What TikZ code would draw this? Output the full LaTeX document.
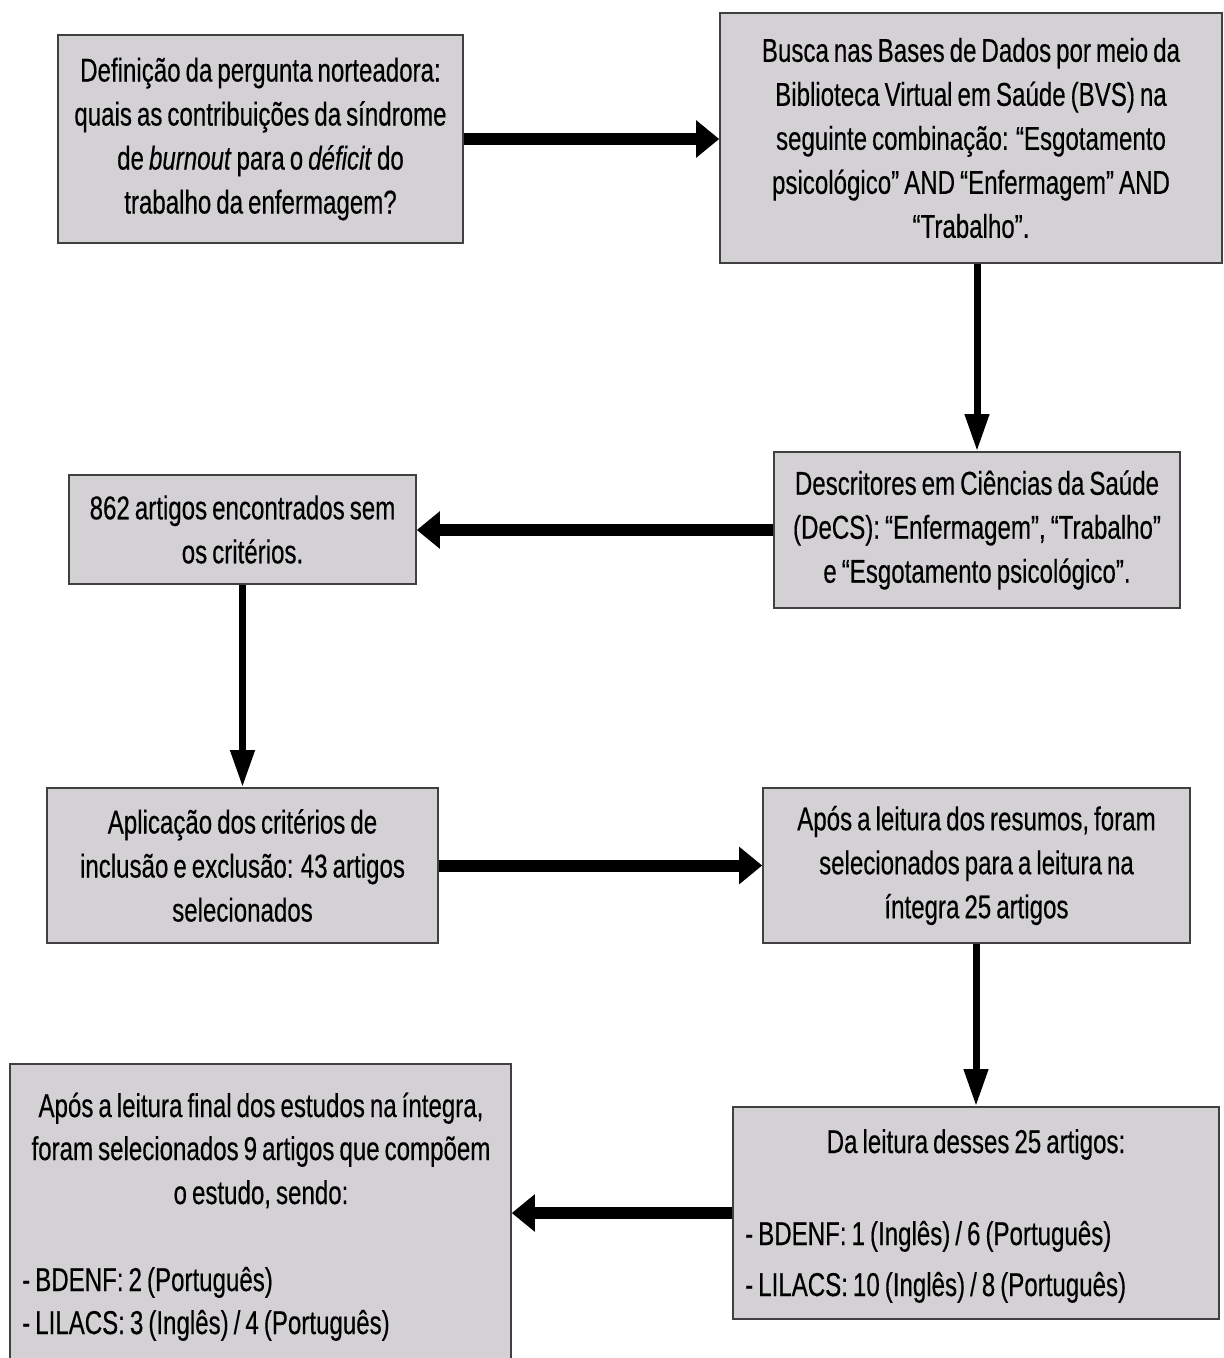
\documentclass[tikz,border=0pt]{standalone}
\usepackage{fontspec}
\setmainfont{Liberation Sans}[FakeStretch=0.73, WordSpace=0.75, FakeBold=0.4]
\usetikzlibrary{arrows.meta}
\definecolor{boxfill}{RGB}{211,209,212}
\definecolor{boxline}{RGB}{64,64,64}
\newcommand\boxfont{\fontsize{33pt}{44pt}\selectfont}
\tikzset{
  box/.style={draw=boxline, line width=1.6pt, fill=boxfill, inner sep=0pt, align=center, font=\boxfont},
  txt/.style={inner sep=0pt, font=\boxfont},
  harrow/.style={line width=12pt, -{Triangle[length=23pt,width=36pt]}},
  varrow/.style={line width=7pt, -{Triangle[length=37pt,width=23pt]}},
}
\begin{document}
\begin{tikzpicture}[x=1pt,y=-1pt]
\useasboundingbox (0,0) rectangle (1224,1358);
\clip (0,0) rectangle (1224,1358);
\fill[white] (0,0) rectangle (1224,1358);

\node[box, minimum width=405pt, minimum height=208pt] (b1) at (260.5,139)
  {Definição da pergunta norteadora:\\ quais as contribuições da síndrome\\ de \textit{burnout} para o \textit{déficit} do\\ trabalho da enfermagem?};
\node[box, minimum width=502pt, minimum height=250pt] (b2) at (971,138)
  {Busca nas Bases de Dados por meio da\\ Biblioteca Virtual em Saúde (BVS) na\\ seguinte combinação: “Esgotamento\\ psicológico” AND “Enfermagem” AND\\ “Trabalho”.};
\node[box, minimum width=406pt, minimum height=156pt] (b3) at (977,530)
  {Descritores em Ciências da Saúde\\ (DeCS): “Enfermagem”, “Trabalho”\\ e “Esgotamento psicológico”.};
\node[box, minimum width=347pt, minimum height=109pt] (b4) at (242.5,529.5)
  {862 artigos encontrados sem\\ os critérios.};
\node[box, minimum width=391pt, minimum height=155pt] (b5) at (242.5,865.5)
  {Aplicação dos critérios de\\ inclusão e exclusão: 43 artigos\\ selecionados};
\node[box, minimum width=427pt, minimum height=155pt] (b6) at (976.5,865.5)
  {Após a leitura dos resumos, foram\\ selecionados para a leitura na\\ íntegra 25 artigos};
\node[box, minimum width=486pt, minimum height=212pt] (b7) at (976,1213) {};
\node[box, minimum width=501pt, minimum height=320pt] (b8) at (260.5,1224) {};

\node[txt, anchor=base] (t7a) at (976,1153) {Da leitura desses 25 artigos:};
\node[txt, anchor=base west] (t7b) at (745,1245) {- BDENF: 1 (Inglês) / 6 (Português)};
\node[txt, anchor=base west] (t7c) at (745,1296) {- LILACS: 10 (Inglês) / 8 (Português)};

\node[txt, anchor=base] (t8a) at (261,1117) {Após a leitura final dos estudos na íntegra,};
\node[txt, anchor=base] (t8b) at (261,1160) {foram selecionados 9 artigos que compõem};
\node[txt, anchor=base] (t8c) at (261,1204) {o estudo, sendo:};
\node[txt, anchor=base west] (t8d) at (22,1291) {- BDENF: 2 (Português)};
\node[txt, anchor=base west] (t8e) at (22,1334) {- LILACS: 3 (Inglês) / 4 (Português)};

\draw[harrow] (b1.east) -- (b1.east -| b2.west);
\draw[varrow] (b3.north |- b2.south) -- (b3.north);
\draw[harrow] (b3.west) -- (b3.west -| b4.east);
\draw[varrow] (b4.south) -- (b5.north);
\draw[harrow] (b5.east) -- (b6.west);
\draw[varrow] (b7.north |- b6.south) -- (b7.north);
\draw[harrow] (b7.west) -- (b7.west -| b8.east);
\end{tikzpicture}
\end{document}
